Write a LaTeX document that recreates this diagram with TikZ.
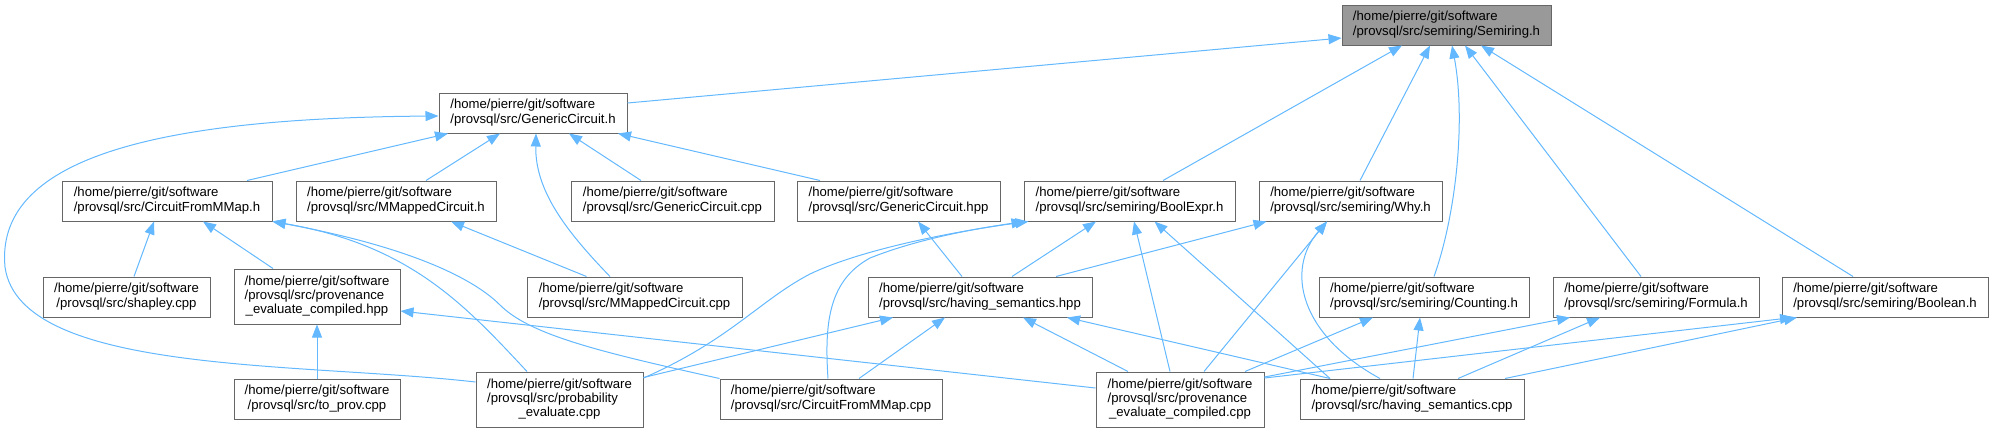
\documentclass[tikz,border=0pt]{standalone}
\usepackage{fontspec}
\setmainfont{Liberation Sans}
\usetikzlibrary{arrows.meta}
\definecolor{edgeblue}{HTML}{63B8FF}
\definecolor{boxgray}{HTML}{666666}
\definecolor{headgray}{HTML}{999999}
\newcommand{\fpath}[2]{\begin{tabular}{@{}l@{}}#1\\\multicolumn{1}{@{}c@{}}{#2}\end{tabular}}

\begin{document}
\begin{tikzpicture}[x=1pt,y=-1pt,
	file/.style={draw=boxgray,line width=1pt,fill=white,inner sep=0pt,minimum height=40pt,font=\fontsize{13.15}{14.3}\selectfont},
	tall/.style={minimum height=55pt},
	incl/.style={draw=edgeblue,line width=1pt,-{Triangle[length=13pt,width=10pt]}}]
	\useasboundingbox (0,0) rectangle (1993,432);

	%TOP ROW
	\node[file,fill=headgray,minimum width=209pt] (semh) at (1446.5,25) {\fpath{/home/pierre/git/software}{/provsql/src/semiring/Semiring.h}};
	\node[file,minimum width=188pt] (gch) at (533,113) {\fpath{/home/pierre/git/software}{/provsql/src/GenericCircuit.h}};

	%SECOND ROW
	\node[file,minimum width=210pt] (cfmh) at (167,201) {\fpath{/home/pierre/git/software}{/provsql/src/CircuitFromMMap.h}};
	\node[file,minimum width=200pt] (mmch) at (396,201) {\fpath{/home/pierre/git/software}{/provsql/src/MMappedCircuit.h}};
	\node[file,minimum width=203pt] (gccpp) at (672.5,201) {\fpath{/home/pierre/git/software}{/provsql/src/GenericCircuit.cpp}};
	\node[file,minimum width=203pt] (gchpp) at (898.5,201) {\fpath{/home/pierre/git/software}{/provsql/src/GenericCircuit.hpp}};
	\node[file,minimum width=211pt] (boolexprh) at (1129.5,201) {\fpath{/home/pierre/git/software}{/provsql/src/semiring/BoolExpr.h}};
	\node[file,minimum width=183pt] (whyh) at (1350.5,201) {\fpath{/home/pierre/git/software}{/provsql/src/semiring/Why.h}};

	%THIRD ROW
	\node[file,minimum width=167pt] (shapley) at (126.5,297) {\fpath{/home/pierre/git/software}{/provsql/src/shapley.cpp}};
	\node[file,tall,minimum width=166pt] (pechpp) at (317,296.5) {\fpath{/home/pierre/git/software\\/provsql/src/provenance}{\_evaluate\_compiled.hpp}};
	\node[file,minimum width=215pt] (mmccpp) at (634.5,297) {\fpath{/home/pierre/git/software}{/provsql/src/MMappedCircuit.cpp}};
	\node[file,minimum width=224pt] (hshpp) at (980,297) {\fpath{/home/pierre/git/software}{/provsql/src/having\_semantics.hpp}};
	\node[file,minimum width=210pt] (countingh) at (1424,297) {\fpath{/home/pierre/git/software}{/provsql/src/semiring/Counting.h}};
	\node[file,minimum width=206pt] (formulah) at (1656,297) {\fpath{/home/pierre/git/software}{/provsql/src/semiring/Formula.h}};
	\node[file,minimum width=206pt] (booleanh) at (1885,297) {\fpath{/home/pierre/git/software}{/provsql/src/semiring/Boolean.h}};

	%BOTTOM ROW
	\node[file,minimum width=166pt] (toprov) at (317,399) {\fpath{/home/pierre/git/software}{/provsql/src/to\_prov.cpp}};
	\node[file,tall,minimum width=167pt] (probcpp) at (559.5,399.5) {\fpath{/home/pierre/git/software\\/provsql/src/probability}{\_evaluate.cpp}};
	\node[file,minimum width=222pt] (cfmcpp) at (831,399) {\fpath{/home/pierre/git/software}{/provsql/src/CircuitFromMMap.cpp}};
	\node[file,tall,minimum width=168pt] (peccpp) at (1180,399.5) {\fpath{/home/pierre/git/software\\/provsql/src/provenance}{\_evaluate\_compiled.cpp}};
	\node[file,minimum width=224pt] (hscpp) at (1412,399) {\fpath{/home/pierre/git/software}{/provsql/src/having\_semantics.cpp}};

	%INTO SEMIRING.H
	\draw[incl] ([yshift=10pt]gch.east) -- ([yshift=-13pt]semh.west);
	\draw[incl] ([xshift=33.5pt]boolexprh.north) -- ([xshift=-44.5pt]semh.south);
	\draw[incl] ([xshift=9.5pt]whyh.north) -- ([xshift=-16.5pt]semh.south);
	\draw[incl] ([xshift=10pt]countingh.north) .. controls (1456,215) and (1466,120) .. ([xshift=5.5pt]semh.south);
	\draw[incl] ([xshift=-15pt]formulah.north) -- ([xshift=18.5pt]semh.south);
	\draw[incl] ([xshift=-32pt]booleanh.north) -- ([xshift=34.5pt]semh.south);

	%INTO GENERICCIRCUIT.H
	\draw[incl] ([xshift=80pt]cfmh.north) -- ([xshift=-85pt]gch.south);
	\draw[incl] ([xshift=30pt]mmch.north) -- ([xshift=-33pt]gch.south);
	\draw[incl] ([xshift=-24.5pt]mmccpp.north) .. controls (565,230) and (535,190) .. ([xshift=3pt]gch.south);
	\draw[incl] ([xshift=-31.5pt]gccpp.north) -- ([xshift=36pt]gch.south);
	\draw[incl] ([xshift=-78.5pt]gchpp.north) -- ([xshift=85pt]gch.south);
	\draw[incl] ([yshift=17.5pt]probcpp.west) .. controls (300,362) and (20,375) .. (5,267) .. controls (-5,160) and (150,118) .. ([yshift=-3pt]gch.west);

	%INTO CIRCUITFROMMMAP.H
	\draw[incl] ([xshift=7.5pt]shapley.north) -- ([xshift=-13pt]cfmh.south);
	\draw[incl] ([xshift=-44pt]pechpp.north) -- ([xshift=36pt]cfmh.south);
	\draw[incl] ([xshift=-32.5pt]probcpp.north) .. controls (465,305) and (410,245) .. (cfmh.south east);
	\draw[incl] (cfmcpp.north west) .. controls (600,352) and (530,335) .. (500,305) .. controls (470,275) and (400,245) .. (cfmh.south east);

	%INTO MMAPPEDCIRCUIT.H
	\draw[incl] ([xshift=-48pt]mmccpp.north) -- ([xshift=55pt]mmch.south);

	%INTO PROVENANCE_EVALUATE_COMPILED.HPP
	\draw[incl] (toprov.north) -- (pechpp.south);
	\draw[incl] ([yshift=11.5pt]peccpp.west) -- ([yshift=-14.5pt]pechpp.east);

	%INTO GENERICCIRCUIT.HPP
	\draw[incl] ([xshift=-18pt]hshpp.north) -- ([xshift=19.5pt]gchpp.south);

	%INTO BOOLEXPR.H
	\draw[incl] ([yshift=21.5pt]probcpp.east) .. controls (730,340) and (760,300) .. (810,274) .. controls (860,250) and (950,232) .. ([xshift=5pt]boolexprh.south west);
	\draw[incl] ([xshift=-3pt]cfmcpp.north) .. controls (824,320) and (830,280) .. (870,258) .. controls (920,238) and (980,228) .. ([xshift=1pt]boolexprh.south west);
	\draw[incl] ([xshift=32pt]hshpp.north) -- ([xshift=-33.5pt]boolexprh.south);
	\draw[incl] ([xshift=-10pt]peccpp.north) -- ([xshift=4.5pt]boolexprh.south);
	\draw[incl] ([xshift=-82pt]hscpp.north) -- ([xshift=25pt]boolexprh.south);

	%INTO WHY.H
	\draw[incl] ([xshift=76pt]hshpp.north) -- ([xshift=-84pt]whyh.south);
	\draw[incl] ([xshift=24pt]peccpp.north) -- ([xshift=-23.5pt]whyh.south);
	\draw[incl] ([xshift=-32pt]hscpp.north) .. controls (1300,335) and (1285,270) .. ([xshift=-23.5pt]whyh.south);

	%INTO HAVING_SEMANTICS.HPP
	\draw[incl] ([yshift=22pt]probcpp.east) -- ([xshift=-87pt]hshpp.south);
	\draw[incl] ([xshift=28pt]cfmcpp.north) -- ([xshift=-35pt]hshpp.south);
	\draw[incl] ([xshift=-52pt]peccpp.north) -- ([xshift=43pt]hshpp.south);
	\draw[incl] ([xshift=-82pt]hscpp.north) -- ([xshift=87pt]hshpp.south);

	%INTO COUNTING.H
	\draw[incl] ([xshift=65pt]peccpp.north) -- ([xshift=-51pt]countingh.south);
	\draw[incl] ([xshift=1pt]hscpp.north) -- ([xshift=-4pt]countingh.south);

	%INTO FORMULA.H
	\draw[incl] ([yshift=22.5pt]peccpp.east) -- ([xshift=-86pt]formulah.south);
	\draw[incl] ([xshift=46pt]hscpp.north) -- ([xshift=-56pt]formulah.south);

	%INTO BOOLEAN.H
	\draw[incl] ([yshift=21.5pt]peccpp.east) -- ([xshift=-92pt]booleanh.south);
	\draw[incl] ([xshift=93pt]hscpp.north) -- ([xshift=-88pt]booleanh.south);
\end{tikzpicture}
\end{document}
